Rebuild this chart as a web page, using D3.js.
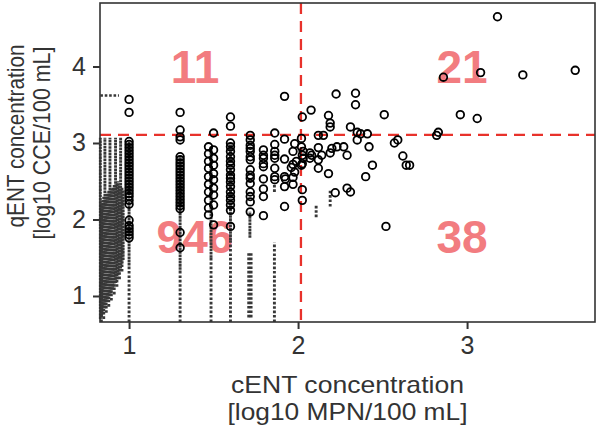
<!DOCTYPE html>
<html>
<head>
<meta charset="utf-8">
<script src="https://cdn.jsdelivr.net/npm/d3@7.9.0/dist/d3.min.js"></script>
<style>
  html, body { margin: 0; padding: 0; background: #fff; }
  svg { display: block; font-family: "Liberation Sans", Arial, sans-serif; }
</style>
</head>
<body>
<svg id="chart" width="600" height="425"></svg>
<script>
// thresholds (log10 of 104 MPN and 1280 CCE)
const xThreshold = 2.017;
const yThreshold = 3.107;

// quadrant counts: upper-left, upper-right, lower-left, lower-right
const quadCounts = ['11', '21', '946', '38'];

const xTicks = [1, 2, 3];
const yTicks = [1, 2, 3, 4];

// columns of open circles at the discrete MPN values (y only)
const col100 = [3.57, 3.40, 3.02, 2.98, 2.94, 2.90, 2.86, 2.82, 2.78, 2.74, 2.70, 2.66, 2.62, 2.58,
                2.54, 2.50, 2.46, 2.42, 2.38, 2.34, 2.30, 2.25, 2.20, 1.99, 1.92, 1.88, 1.84, 1.80, 1.76];
const col130 = [3.40, 3.17, 3.08, 3.04, 2.82, 2.78, 2.74, 2.70, 2.66, 2.62, 2.58, 2.54, 2.50, 2.46,
                2.42, 2.38, 2.34, 2.30, 2.26, 2.22, 2.18, 2.14, 1.83, 1.63];
const col147 = [2.95, 2.86, 2.76, 2.67, 2.56, 2.46, 2.36, 2.25, 2.15, 2.06];
const col150 = [3.13, 2.91, 2.80, 2.71, 2.60, 2.52, 2.41, 2.32, 2.19, 1.93];
const col160 = [3.34, 3.22, 3.00, 2.95, 2.89, 2.82, 2.76, 2.71, 2.65, 2.58, 2.54, 2.49, 2.43, 2.36,
                2.30, 2.25, 2.19, 2.12, 1.91];
const col172 = [3.10, 3.04, 2.97, 2.93, 2.89, 2.82, 2.78, 2.65, 2.58, 2.54, 2.47, 2.36, 2.30, 2.23, 2.10];
const col180 = [2.91, 2.84, 2.80, 2.73, 2.69, 2.53, 2.40, 2.30, 2.05];
const col186 = [3.13, 2.98, 2.89, 2.84, 2.80, 2.67, 2.56, 2.52];

// remaining scattered circles [cENT, qENT]
const scatter = [
  [1.92, 3.61], [1.92, 3.05], [1.92, 2.79], [1.92, 2.56], [1.925, 2.53], [1.92, 2.43], [1.92, 2.17],
  [1.98, 2.99], [1.97, 2.89], [1.99, 2.76], [1.97, 2.72], [1.96, 2.68], [1.98, 2.62], [1.97, 2.55], [1.97, 2.46],
  [2.025, 3.34], [2.02, 3.06], [2.02, 2.95], [2.03, 2.89], [2.025, 2.84], [2.03, 2.80], [2.025, 2.73],
  [2.02, 2.71], [2.025, 2.39], [2.025, 2.25],
  [2.077, 3.43], [2.07, 2.87], [2.08, 2.84], [2.07, 2.80],
  [2.12, 3.10], [2.12, 2.94], [2.12, 2.78], [2.12, 2.67], [2.15, 3.10], [2.14, 2.84],
  [2.18, 3.36], [2.19, 3.26], [2.19, 3.21], [2.20, 2.93], [2.19, 2.87], [2.18, 2.60],
  [2.225, 3.64], [2.23, 2.95], [2.22, 2.35], [2.27, 2.95], [2.29, 2.84], [2.29, 2.41], [2.31, 2.36], [2.31, 3.21],
  [2.34, 3.65], [2.34, 3.50], [2.35, 3.14], [2.35, 3.04], [2.37, 3.12], [2.41, 3.12], [2.42, 2.95],
  [2.44, 2.71], [2.40, 2.56], [2.51, 3.37], [2.52, 1.91], [2.57, 3.00], [2.59, 3.04], [2.62, 2.83],
  [2.64, 2.71], [2.66, 2.71], [2.82, 3.10], [2.83, 3.14], [2.86, 3.86], [2.96, 3.37], [3.06, 3.32],
  [3.08, 3.92], [3.18, 4.65], [3.33, 3.89], [3.64, 3.95]
];

// runs of small dots: [cENT, qENT from, qENT to, dense?]
const dotRuns = [
  [0.830, 0.70, 3.07, 1], [0.837, 0.73, 2.20, 1], [0.843, 0.76, 2.25, 1], [0.850, 0.80, 2.30, 1],
  [0.857, 0.84, 3.07, 1], [0.864, 0.88, 2.32, 1], [0.872, 0.92, 2.35, 1], [0.880, 0.96, 2.38, 1],
  [0.887, 1.00, 3.07, 1], [0.895, 1.04, 2.40, 1], [0.903, 1.08, 2.42, 1], [0.912, 1.12, 2.45, 1],
  [0.920, 1.17, 3.07, 1], [0.928, 1.22, 2.48, 1], [0.935, 1.27, 2.50, 1], [0.943, 1.32, 2.45, 1],
  [0.950, 1.36, 3.07, 1], [0.958, 1.42, 2.42, 1], [0.965, 1.47, 2.38, 1],
  [0.836, 0.66, 0.74, 0], [0.850, 0.70, 0.82, 0], [0.865, 0.78, 0.90, 0], [0.880, 0.86, 0.98, 0],
  [0.895, 0.94, 1.06, 0], [0.912, 1.02, 1.15, 0], [0.928, 1.12, 1.25, 0], [0.943, 1.22, 1.35, 0],
  [0.958, 1.32, 1.45, 0],
  [1.000, 1.40, 3.02, 1], [1.000, 0.66, 1.40, 0],
  [1.302, 1.30, 2.82, 1], [1.302, 0.66, 1.30, 0],
  [1.485, 1.50, 2.95, 1], [1.485, 0.66, 1.50, 0],
  [1.600, 1.73, 3.00, 1], [1.600, 0.66, 1.73, 0],
  [1.715, 1.76, 2.10, 1], [1.708, 0.72, 1.56, 0], [1.722, 0.72, 1.56, 0],
  [1.860, 0.66, 1.70, 0], [1.860, 2.36, 2.45, 0],
  [2.107, 2.03, 2.19, 0], [2.190, 2.17, 2.39, 0]
];
// horizontal dot run: [cENT from, cENT to, qENT]
const hDotRuns = [[0.83, 0.94, 3.62]];

const width = 600, height = 425;
const margin = { top: 3, right: 5, bottom: 103, left: 100 };

const svg = d3.select('#chart');

const x = d3.scaleLinear().domain([0.828, 3.757]).range([margin.left, width - margin.right]);
const y = d3.scaleLinear().domain([0.66, 4.83]).range([height - margin.bottom, margin.top]);

const dark = '#333';
const pink = '#f27c80';
const red  = '#e8322b';

// quadrant counts go underneath everything
const quadPos = [[1.39, 3.78], [2.97, 3.78], [1.39, 1.56], [2.97, 1.56]];
svg.append('g')
  .selectAll('text')
  .data(quadCounts)
  .join('text')
    .attr('x', (d, i) => x(quadPos[i][0]))
    .attr('y', (d, i) => y(quadPos[i][1]))
    .attr('text-anchor', 'middle')
    .attr('font-size', 46)
    .attr('font-weight', 'bold')
    .attr('fill', pink)
    .text(d => d);

// threshold lines
svg.append('line')
  .attr('x1', x(xThreshold)).attr('x2', x(xThreshold))
  .attr('y1', y.range()[1]).attr('y2', y.range()[0])
  .attr('stroke', red).attr('stroke-width', 2.3)
  .attr('stroke-dasharray', '11,7');
svg.append('line')
  .attr('x1', x.range()[0]).attr('x2', x.range()[1])
  .attr('y1', y(yThreshold)).attr('y2', y(yThreshold))
  .attr('stroke', red).attr('stroke-width', 2.3)
  .attr('stroke-dasharray', '11,7');

// small dots
const dots = svg.append('g').attr('stroke', '#383838').attr('fill', 'none');
dots.selectAll('line.v')
  .data(dotRuns)
  .join('line')
    .attr('class', 'v')
    .attr('x1', d => x(d[0])).attr('x2', d => x(d[0]))
    .attr('y1', d => y(d[1])).attr('y2', d => y(d[2]))
    .attr('stroke-width', d => d[3] ? 2.9 : 2.9)
    .attr('stroke-dasharray', d => d[3] ? '2.6,0.6' : '2.6,1.8');
dots.selectAll('line.h')
  .data(hDotRuns)
  .join('line')
    .attr('class', 'h')
    .attr('x1', d => x(d[0])).attr('x2', d => x(d[1]))
    .attr('y1', d => y(d[2])).attr('y2', d => y(d[2]))
    .attr('stroke-width', 2.6)
    .attr('stroke-dasharray', '2.6,1.8');

// open circles
const columns = [[1.0, col100], [1.302, col130], [1.47, col147], [1.50, col150],
                 [1.60, col160], [1.717, col172], [1.795, col180], [1.862, col186]];
const circles = columns.flatMap(([cx, ys]) => ys.map(v => [cx, v])).concat(scatter);

svg.append('g')
  .selectAll('circle')
  .data(circles)
  .join('circle')
    .attr('cx', d => x(d[0]))
    .attr('cy', d => y(d[1]))
    .attr('r', 3.8)
    .attr('fill', 'none')
    .attr('stroke', '#000')
    .attr('stroke-width', 1.8);

// axes
const xAxis = svg.append('g')
  .attr('transform', `translate(0,${height - margin.bottom})`)
  .call(d3.axisBottom(x).tickValues(xTicks).tickFormat(d3.format('d')).tickSize(7).tickPadding(7));
const yAxis = svg.append('g')
  .attr('transform', `translate(${margin.left},0)`)
  .call(d3.axisLeft(y).tickValues(yTicks).tickFormat(d3.format('d')).tickSize(7).tickPadding(7));

[xAxis, yAxis].forEach(g => {
  g.select('.domain').remove();
  g.selectAll('.tick line').attr('stroke', dark).attr('stroke-width', 2);
  g.selectAll('.tick text')
    .attr('fill', dark)
    .attr('font-size', 25)
    .attr('font-family', '"Liberation Sans", Arial, sans-serif');
});

// frame
svg.append('rect')
  .attr('x', margin.left).attr('y', margin.top)
  .attr('width', width - margin.left - margin.right)
  .attr('height', height - margin.top - margin.bottom)
  .attr('fill', 'none')
  .attr('stroke', dark)
  .attr('stroke-width', 1.6);

// axis titles
const cx = (margin.left + width - margin.right) / 2;
svg.append('text')
  .attr('x', cx).attr('y', 393)
  .attr('text-anchor', 'middle').attr('font-size', 24).attr('fill', dark)
  .attr('textLength', 233).attr('lengthAdjust', 'spacingAndGlyphs')
  .text('cENT concentration');
svg.append('text')
  .attr('x', cx).attr('y', 420)
  .attr('text-anchor', 'middle').attr('font-size', 24).attr('fill', dark)
  .attr('textLength', 240).attr('lengthAdjust', 'spacingAndGlyphs')
  .text('[log10 MPN/100 mL]');

svg.append('text')
  .attr('transform', 'translate(24,136) rotate(-90)')
  .attr('text-anchor', 'middle').attr('font-size', 24).attr('fill', dark)
  .attr('textLength', 183).attr('lengthAdjust', 'spacingAndGlyphs')
  .text('qENT concentration');
svg.append('text')
  .attr('transform', 'translate(50,143) rotate(-90)')
  .attr('text-anchor', 'middle').attr('font-size', 24).attr('fill', dark)
  .attr('textLength', 193).attr('lengthAdjust', 'spacingAndGlyphs')
  .text('[log10 CCE/100 mL]');
</script>
</body>
</html>
